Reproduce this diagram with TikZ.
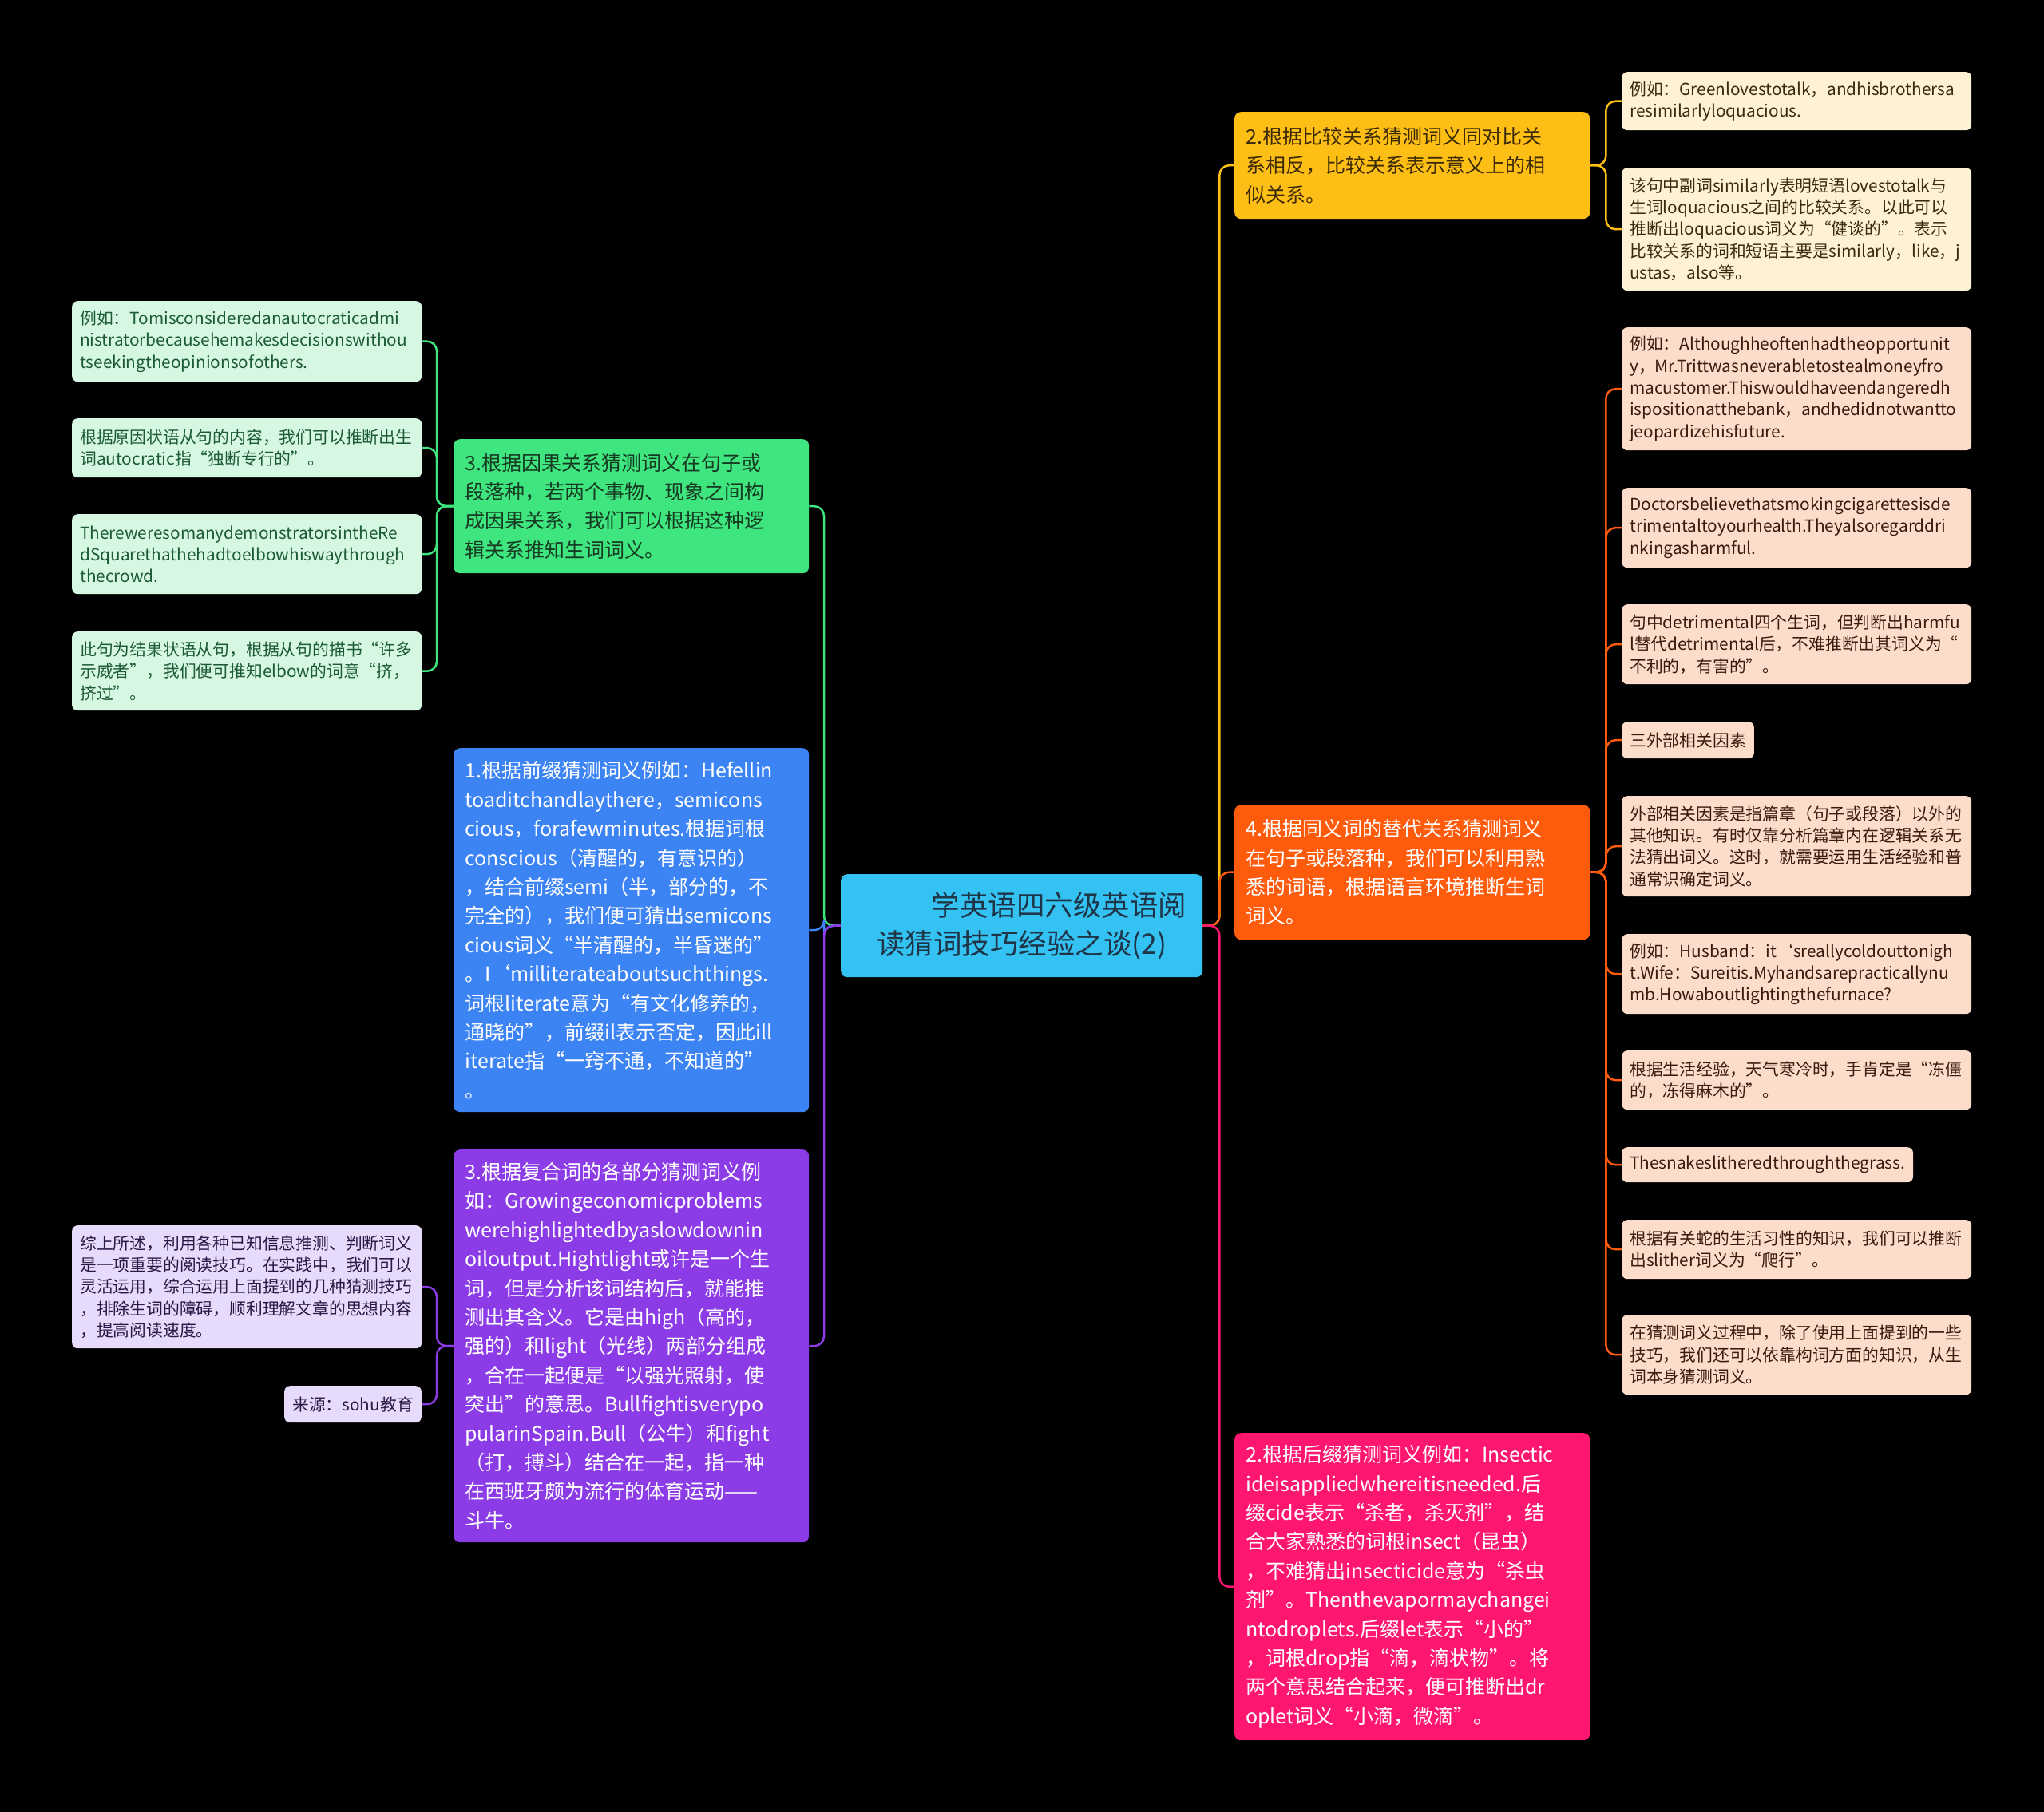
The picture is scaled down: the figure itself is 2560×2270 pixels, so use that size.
\documentclass[tikz,border=0pt]{standalone}
\usepackage{fontspec}
\setmainfont{Noto Sans CJK SC}
\usetikzlibrary{positioning}
\hyphenpenalty=10000

\definecolor{rootfill}{HTML}{33C2F2}
\definecolor{roottext}{HTML}{1F3447}
\definecolor{grnfill}{HTML}{3FE57E}
\definecolor{grntext}{HTML}{163A22}
\definecolor{grnleaf}{HTML}{D6F8E3}
\definecolor{grnleaftext}{HTML}{1C5B34}
\definecolor{bluefill}{HTML}{3C83F4}
\definecolor{purfill}{HTML}{8C3CE6}
\definecolor{purleaf}{HTML}{E7DBFB}
\definecolor{purleaftext}{HTML}{2B1846}
\definecolor{yelfill}{HTML}{FDBE16}
\definecolor{yeltext}{HTML}{3B2A05}
\definecolor{yelleaf}{HTML}{FDF2D3}
\definecolor{yelleaftext}{HTML}{3A2C0C}
\definecolor{orgfill}{HTML}{FE5B0C}
\definecolor{orgleaf}{HTML}{FDDCCB}
\definecolor{orgleaftext}{HTML}{3A1C0D}
\definecolor{pinkfill}{HTML}{FE1670}

\tikzset{
rootbox/.style={
  anchor=north west,
  fill=rootfill,
  text=roottext,
  rounded corners=8pt,
  inner xsep=14pt,
  inner ysep=0pt,
  text width=425pt,
  align=center,
  font=\fontsize{35.5}{48}\selectfont
  },
mainbox/.style={
  anchor=north west,
  fill=#1,
  rounded corners=8pt,
  inner xsep=14pt,
  inner ysep=0pt,
  text width=417pt,
  align=left,
  font=\fontsize{25}{36.4}\selectfont
  },
leafbox/.style={
  anchor=north west,
  fill=#1,
  rounded corners=7pt,
  inner xsep=10pt,
  inner ysep=0pt,
  align=left,
  font=\fontsize{20.8}{27.3}\selectfont
  },
leaf/.style={
  leafbox=#1,
  text width=418pt
  },
link/.style={
  draw=#1
  }
}

\begin{document}
\begin{tikzpicture}[x=1pt,y=-1pt]

\useasboundingbox (0,0) rectangle (2560,2270);
\fill[black] (0,0) rectangle (2560,2270);

\node[rootbox,minimum height=129pt] (root) at (1053,1095)
{\hspace*{94pt}学英语四六级英语阅\\读猜词技巧经验之谈(2)};

% left side
\node[mainbox=grnfill,text=grntext,minimum height=168pt] (green3) at (568,550)
{3.根据因果关系猜测词义在句子或\\段落种，若两个事物、现象之间构\\成因果关系，我们可以根据这种逻\\辑关系推知生词词义。};

\node[mainbox=bluefill,text=white,minimum height=456pt] (blue1) at (568,937)
{1.根据前缀猜测词义例如：Hefellin\\toaditchandlaythere，semicons\\cious，forafewminutes.根据词根\\conscious（清醒的，有意识的）\\，结合前缀semi（半，部分的，不\\完全的），我们便可猜出semicons\\cious词义“半清醒的，半昏迷的”\\。I‘milliterateaboutsuchthings.\\词根literate意为“有文化修养的，\\通晓的”，前缀il表示否定，因此ill\\iterate指“一窍不通，不知道的”\\。};

\node[mainbox=purfill,text=white,minimum height=492pt] (purple3) at (568,1440)
{3.根据复合词的各部分猜测词义例\\如：Growingeconomicproblems\\werehighlightedbyaslowdownin\\oiloutput.Hightlight或许是一个生\\词，但是分析该词结构后，就能推\\测出其含义。它是由high（高的，\\强的）和light（光线）两部分组成\\，合在一起便是“以强光照射，使\\突出”的意思。Bullfightisverypo\\pularinSpain.Bull（公牛）和fight\\（打，搏斗）结合在一起，指一种\\在西班牙颇为流行的体育运动——\\斗牛。};

\node[leaf=grnleaf,text=grnleaftext,minimum height=101pt] (gl1) at (90,377)
{例如：Tomisconsideredanautocraticadmi\\nistratorbecausehemakesdecisionswithou\\tseekingtheopinionsofothers.};
\node[leaf=grnleaf,text=grnleaftext,minimum height=74pt] (gl2) at (90,524)
{根据原因状语从句的内容，我们可以推断出生\\词autocratic指“独断专行的”。};
\node[leaf=grnleaf,text=grnleaftext,minimum height=100pt] (gl3) at (90,644)
{ThereweresomanydemonstratorsintheRe\\dSquarethathehadtoelbowhiswaythrough\\thecrowd.};
\node[leaf=grnleaf,text=grnleaftext,minimum height=99pt] (gl4) at (90,791)
{此句为结果状语从句，根据从句的描书“许多\\示威者”，我们便可推知elbow的词意“挤，\\挤过”。};

\node[leaf=purleaf,text=purleaftext,minimum height=154pt] (pl1) at (90,1535)
{综上所述，利用各种已知信息推测、判断词义\\是一项重要的阅读技巧。在实践中，我们可以\\灵活运用，综合运用上面提到的几种猜测技巧\\，排除生词的障碍，顺利理解文章的思想内容\\，提高阅读速度。};
\node[leafbox=purleaf,text=purleaftext,minimum height=46pt,anchor=north east] (pl2) at (528,1736)
{来源：sohu教育};

% right side
\node[mainbox=yelfill,text=yeltext,minimum height=134pt] (yellow2) at (1546,140)
{2.根据比较关系猜测词义同对比关\\系相反，比较关系表示意义上的相\\似关系。};

\node[mainbox=orgfill,text=white,minimum height=169pt] (orange4) at (1546,1008)
{4.根据同义词的替代关系猜测词义\\在句子或段落种，我们可以利用熟\\悉的词语，根据语言环境推断生词\\词义。};

\node[mainbox=pinkfill,text=white,minimum height=385pt] (pink2) at (1546,1795)
{2.根据后缀猜测词义例如：Insectic\\ideisappliedwhereitisneeded.后\\缀cide表示“杀者，杀灭剂”，结\\合大家熟悉的词根insect（昆虫）\\，不难猜出insecticide意为“杀虫\\剂”。Thenthevapormaychangei\\ntodroplets.后缀let表示“小的”\\，词根drop指“滴，滴状物”。将\\两个意思结合起来，便可推断出dr\\oplet词义“小滴，微滴”。};

\node[leaf=yelleaf,text=yelleaftext,minimum height=73pt] (yl1) at (2031,90)
{例如：Greenlovestotalk，andhisbrothersa\\resimilarlyloquacious.};
\node[leaf=yelleaf,text=yelleaftext,minimum height=154pt] (yl2) at (2031,210)
{该句中副词similarly表明短语lovestotalk与\\生词loquacious之间的比较关系。以此可以\\推断出loquacious词义为“健谈的”。表示\\比较关系的词和短语主要是similarly，like，j\\ustas，also等。};

\node[leaf=orgleaf,text=orgleaftext,minimum height=154pt] (ol1) at (2031,410)
{例如：Althoughheoftenhadtheopportunit\\y，Mr.Trittwasneverabletostealmoneyfro\\macustomer.Thiswouldhaveendangeredh\\ispositionatthebank，andhedidnotwantto\\jeopardizehisfuture.};
\node[leaf=orgleaf,text=orgleaftext,minimum height=100pt] (ol2) at (2031,611)
{Doctorsbelievethatsmokingcigarettesisde\\trimentaltoyourhealth.Theyalsoregarddri\\nkingasharmful.};
\node[leaf=orgleaf,text=orgleaftext,minimum height=100pt] (ol3) at (2031,757)
{句中detrimental四个生词，但判断出harmfu\\l替代detrimental后，不难推断出其词义为“\\不利的，有害的”。};
\node[leafbox=orgleaf,text=orgleaftext,minimum height=46pt] (ol4) at (2031,904)
{三外部相关因素};
\node[leaf=orgleaf,text=orgleaftext,minimum height=126pt] (ol5) at (2031,997)
{外部相关因素是指篇章（句子或段落）以外的\\其他知识。有时仅靠分析篇章内在逻辑关系无\\法猜出词义。这时，就需要运用生活经验和普\\通常识确定词义。};
\node[leaf=orgleaf,text=orgleaftext,minimum height=100pt] (ol6) at (2031,1170)
{例如：Husband：it‘sreallycoldouttonigh\\t.Wife：Sureitis.Myhandsarepracticallynu\\mb.Howaboutlightingthefurnace?};
\node[leaf=orgleaf,text=orgleaftext,minimum height=74pt] (ol7) at (2031,1316)
{根据生活经验，天气寒冷时，手肯定是“冻僵\\的，冻得麻木的”。};
\node[leafbox=orgleaf,text=orgleaftext,minimum height=44pt] (ol8) at (2031,1437)
{Thesnakeslitheredthroughthegrass.};
\node[leaf=orgleaf,text=orgleaftext,minimum height=74pt] (ol9) at (2031,1528)
{根据有关蛇的生活习性的知识，我们可以推断\\出slither词义为“爬行”。};
\node[leaf=orgleaf,text=orgleaftext,minimum height=100pt] (ol10) at (2031,1647)
{在猜测词义过程中，除了使用上面提到的一些\\技巧，我们还可以依靠构词方面的知识，从生\\词本身猜测词义。};

\coordinate[left=21pt of root.west] (lfork);
\coordinate[right=21pt of root.east] (rfork);
\coordinate[left=21pt of green3.west] (gfork);
\coordinate[left=21pt of purple3.west] (pfork);
\coordinate[right=20pt of yellow2.east] (yfork);
\coordinate[right=20pt of orange4.east] (ofork);

\begin{scope}[line width=2.5pt,rounded corners=12pt]

\draw[link=grnfill] (root.west) -- (lfork) |- (green3.east);
\draw[link=bluefill] (root.west) -- (lfork) |- (blue1.east);
\draw[link=purfill] (root.west) -- (lfork) |- (purple3.east);

\draw[link=yelfill] (root.east) -- (rfork) |- (yellow2.west);
\draw[link=orgfill] (root.east) -- (rfork) |- (orange4.west);
\draw[link=pinkfill] (root.east) -- (rfork) |- (pink2.west);

\draw[link=grnfill] (green3.west) -- (gfork) |- (gl1.east);
\draw[link=grnfill] (green3.west) -- (gfork) |- (gl2.east);
\draw[link=grnfill] (green3.west) -- (gfork) |- (gl3.east);
\draw[link=grnfill] (green3.west) -- (gfork) |- (gl4.east);

\draw[link=purfill] (purple3.west) -- (pfork) |- (pl1.east);
\draw[link=purfill] (purple3.west) -- (pfork) |- (pl2.east);

\draw[link=yelfill] (yellow2.east) -- (yfork) |- (yl1.west);
\draw[link=yelfill] (yellow2.east) -- (yfork) |- (yl2.west);

\draw[link=orgfill] (orange4.east) -- (ofork) |- (ol1.west);
\draw[link=orgfill] (orange4.east) -- (ofork) |- (ol2.west);
\draw[link=orgfill] (orange4.east) -- (ofork) |- (ol3.west);
\draw[link=orgfill] (orange4.east) -- (ofork) |- (ol4.west);
\draw[link=orgfill] (orange4.east) -- (ofork) |- (ol5.west);
\draw[link=orgfill] (orange4.east) -- (ofork) |- (ol6.west);
\draw[link=orgfill] (orange4.east) -- (ofork) |- (ol7.west);
\draw[link=orgfill] (orange4.east) -- (ofork) |- (ol8.west);
\draw[link=orgfill] (orange4.east) -- (ofork) |- (ol9.west);
\draw[link=orgfill] (orange4.east) -- (ofork) |- (ol10.west);

\end{scope}
\end{tikzpicture}
\end{document}
